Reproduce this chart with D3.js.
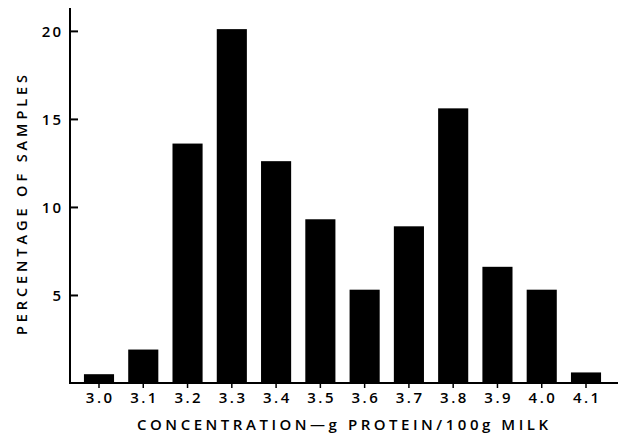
<!DOCTYPE html>
<html>
<head>
<meta charset="utf-8">
<script src="https://cdn.jsdelivr.net/npm/d3@7"></script>
<style>
  html, body { margin: 0; padding: 0; background: #fff; }
  svg { display: block; }
  text { font-family: "Open Sans", "DejaVu Sans", sans-serif; font-weight: 600; fill: #000; }
</style>
</head>
<body>
<svg id="chart" width="621" height="435"></svg>
<script>
// ---- data ----
const categories = ["3.0","3.1","3.2","3.3","3.4","3.5","3.6","3.7","3.8","3.9","4.0","4.1"];
const percentages = [0.5, 1.9, 13.6, 20.1, 12.6, 9.3, 5.3, 8.9, 15.6, 6.6, 5.3, 0.6];
const yTicks = [5, 10, 15, 20];
const xTitle = "CONCENTRATION\u2014g PROTEIN/100g MILK";
const yTitle = "PERCENTAGE OF SAMPLES";

// ---- layout ----
const svg = d3.select("#chart");
const axisX0 = 70, axisX1 = 618, axisY0 = 383, axisTop = 8;

const x = d3.scaleBand()
  .domain(categories)
  .range([76.86, 608.14])
  .paddingInner(0.32)
  .paddingOuter(0.16);

const y = d3.scaleLinear()
  .domain([0, 21.3])
  .range([axisY0, axisTop]);

// bars
svg.append("g")
  .selectAll("rect")
  .data(categories.map((c, i) => ({c, v: percentages[i]})))
  .join("rect")
  .attr("x", d => x(d.c))
  .attr("width", x.bandwidth())
  .attr("y", d => y(d.v))
  .attr("height", d => y(0) - y(d.v))
  .attr("fill", "#000");

// y axis
const yAxis = d3.axisLeft(y)
  .tickValues(yTicks)
  .tickSizeInner(-8)
  .tickSizeOuter(0)
  .tickPadding(7)
  .tickFormat(d3.format("d"));
const gy = svg.append("g").attr("transform", `translate(${axisX0},0)`).call(yAxis);
gy.select(".domain").remove();
gy.selectAll(".tick line").attr("stroke", "#000").attr("stroke-width", 2);
gy.selectAll(".tick text")
  .style("font-size", "15px")
  .attr("letter-spacing", "2px")
  .attr("dy", "0.36em");

// x axis
const xAxis = d3.axisBottom(x)
  .tickSizeInner(5)
  .tickSizeOuter(0)
  .tickPadding(4);
const gx = svg.append("g").attr("transform", `translate(0,${axisY0})`).call(xAxis);
gx.select(".domain").remove();
gx.selectAll(".tick line").attr("stroke", "#000").attr("stroke-width", 1.5);
gx.selectAll(".tick text")
  .style("font-size", "15px")
  .attr("letter-spacing", "2.5px")
  .attr("dx", "1.25px");

// axis lines
svg.append("line")
  .attr("x1", axisX0).attr("x2", axisX0)
  .attr("y1", axisTop).attr("y2", axisY0 + 1)
  .attr("stroke", "#000").attr("stroke-width", 2);
svg.append("line")
  .attr("x1", axisX0 - 1).attr("x2", axisX1)
  .attr("y1", axisY0).attr("y2", axisY0)
  .attr("stroke", "#000").attr("stroke-width", 2);

// titles
svg.append("text")
  .attr("x", 137).attr("y", 430)
  .attr("textLength", 411)
  .attr("lengthAdjust", "spacing")
  .style("font-size", "15px")
  .text(xTitle);

svg.append("text")
  .attr("transform", "translate(27,335) rotate(-90)")
  .attr("textLength", 260)
  .attr("lengthAdjust", "spacing")
  .style("font-size", "14.5px")
  .text(yTitle);
</script>
</body>
</html>
